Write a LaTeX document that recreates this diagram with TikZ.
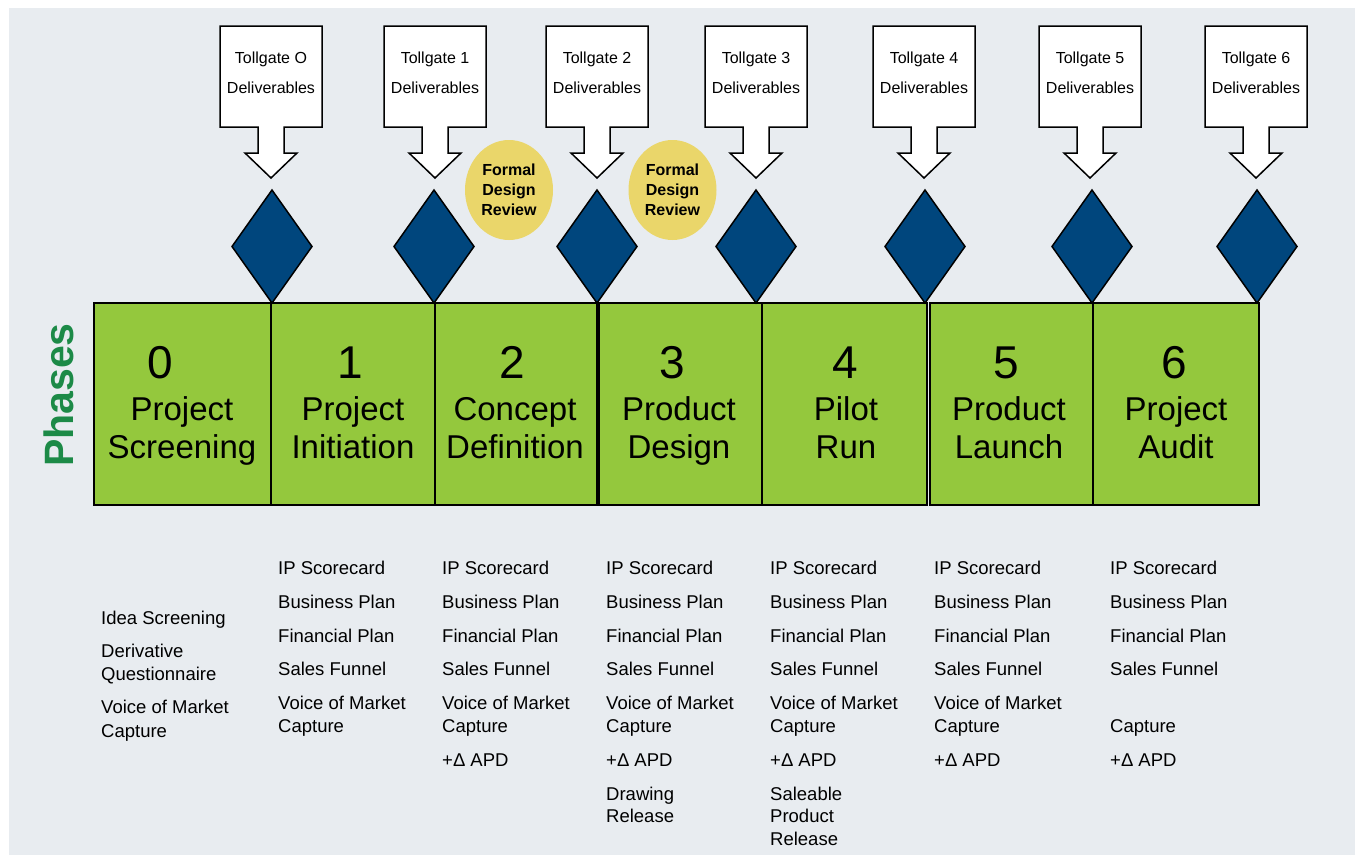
\documentclass[tikz,border=0pt]{standalone}
\usepackage{fontspec}
\setmainfont{Liberation Sans}
\usetikzlibrary{shapes.geometric}
\definecolor{bg}{HTML}{E8ECF0}
\definecolor{phasegreen}{HTML}{94C83D}
\definecolor{gateblue}{HTML}{00467D}
\definecolor{revyellow}{HTML}{EAD66A}
\definecolor{labelgreen}{HTML}{1C8A47}
\begin{document}
\begin{tikzpicture}[x=1pt,y=-1pt,
  gatecall/.style={fill=white,draw=black,line width=1.5pt,line join=miter},
  gatediam/.style={fill=gateblue,draw=black,line width=1.5pt,line join=miter},
  phasebox/.style={fill=phasegreen,draw=black,line width=2pt},
  tgtext/.style={anchor=base,inner sep=0pt,font=\fontsize{16}{19}\selectfont},
  numtext/.style={anchor=base,inner sep=0pt,font=\fontsize{46}{50}\selectfont},
  nametext/.style={anchor=base,inner sep=0pt,font=\fontsize{33}{38}\selectfont},
  lsttext/.style={anchor=base west,inner sep=0pt,font=\fontsize{18.5}{22}\selectfont},
  review/.style={ellipse,fill=revyellow,minimum width=88pt,minimum height=100pt,inner sep=0pt,align=center,font=\fontsize{16}{20}\selectfont\bfseries}
]
\useasboundingbox (0,0) rectangle (1355,855);
\fill[bg] (9,8) rectangle (1355,855);

% phase boxes
\foreach \a/\b [count=\i from 0] in {94/271,271/435,435/597,599/762,762/927,930/1093,1093/1259}{
  \filldraw[phasebox] (\a,303) rectangle (\b,505);
}

% tollgate callouts
\foreach \c/\l [count=\i from 0] in {271/O,435/1,597/2,756/3,924/4,1090/5,1256/6}{
  \draw[gatecall] (\c-51,26) -- (\c+51,26) -- (\c+51,127) -- (\c+13,127) -- (\c+13,153)
     -- (\c+26,153) -- (\c,178) -- (\c-26,153) -- (\c-13,153) -- (\c-13,127) -- (\c-51,127) -- cycle;
  \node[tgtext] (tg\i) at (\c,63) {Tollgate \l};
  \node[tgtext] (dl\i) at (\c,93) {Deliverables};
}

% diamonds
\foreach \c in {272,434,597,756,925,1092,1257}{
  \draw[gatediam] (\c,190) -- (\c+40,246.5) -- (\c,303) -- (\c-40,246.5) -- cycle;
}

% formal design reviews
\node[review] (fdr1) at (509,190) {Formal\\Design\\Review};
\node[review] (fdr2) at (672.5,190) {Formal\\Design\\Review};

% phases label
\node[rotate=90,inner sep=0pt,text=labelgreen,font=\fontsize{41}{45}\selectfont\bfseries] (phases) at (58.5,395) {Phases};

% phase numbers and names
\foreach \nx/\n/\mx/\la/\lb [count=\i from 0] in {160/0/182/Project/Screening,350/1/353/Project/Initiation,512/2/515/Concept/Definition,672/3/679/Product/Design,845/4/846/Pilot/Run,1006/5/1009/Product/Launch,1174/6/1176/Project/Audit}{
  \node[numtext] (num\i) at (\nx,378) {\n};
  \node[nametext] (na\i) at (\mx,420) {\la};
  \node[nametext] (nb\i) at (\mx,458) {\lb};
}

% deliverable lists
\node[lsttext] (c0a) at (101,624.5) {Idea Screening};
\node[lsttext] (c0b) at (101,657.5) {Derivative};
\node[lsttext] (c0c) at (101,680.5) {Questionnaire};
\node[lsttext] (c0d) at (101,713.5) {Voice of Market};
\node[lsttext] (c0e) at (101,737.5) {Capture};

\foreach \x [count=\i from 1] in {278,442,606,770,934}{
  \node[lsttext] (c\i a) at (\x,574) {IP Scorecard};
  \node[lsttext] (c\i b) at (\x,608) {Business Plan};
  \node[lsttext] (c\i c) at (\x,642) {Financial Plan};
  \node[lsttext] (c\i d) at (\x,675) {Sales Funnel};
  \node[lsttext] (c\i e) at (\x,709) {Voice of Market};
  \node[lsttext] (c\i f) at (\x,732) {Capture};
}
\foreach \x [count=\i from 2] in {442,606,770,934}{
  \node[lsttext] (c\i g) at (\x,766) {+Δ APD};
}
\node[lsttext] (c3h) at (606,800) {Drawing};
\node[lsttext] (c3i) at (606,822.5) {Release};
\node[lsttext] (c4h) at (770,800) {Saleable};
\node[lsttext] (c4i) at (770,822) {Product};
\node[lsttext] (c4j) at (770,845) {Release};

\node[lsttext] (c6a) at (1110,574) {IP Scorecard};
\node[lsttext] (c6b) at (1110,608) {Business Plan};
\node[lsttext] (c6c) at (1110,642) {Financial Plan};
\node[lsttext] (c6d) at (1110,675) {Sales Funnel};
\node[lsttext] (c6f) at (1110,732) {Capture};
\node[lsttext] (c6g) at (1110,766) {+Δ APD};
\end{tikzpicture}
\end{document}
